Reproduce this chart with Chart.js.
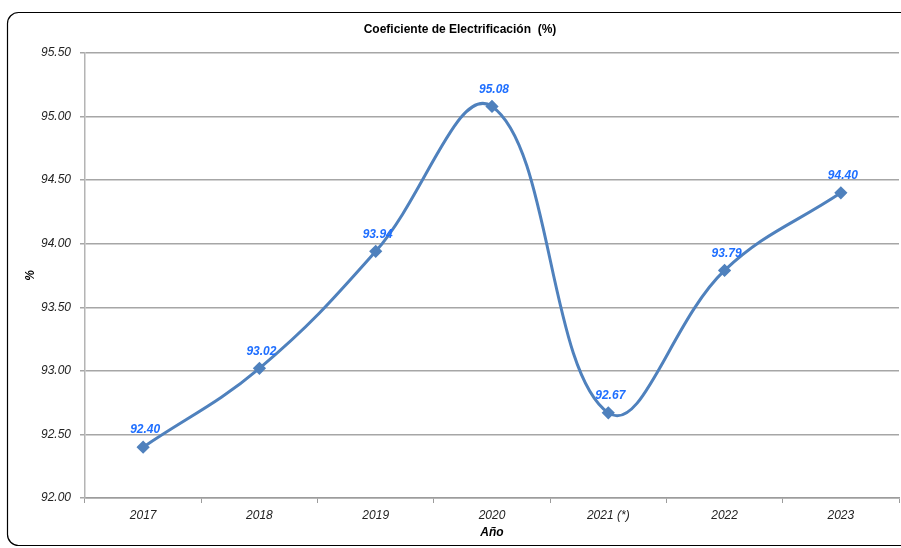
<!DOCTYPE html>
<html>
<head>
<meta charset="utf-8">
<script src="https://cdn.jsdelivr.net/npm/chart.js@4"></script>
<style>
  html, body { margin: 0; padding: 0; background: #ffffff; overflow: hidden; }
  #wrap { width: 901px; height: 548px; position: relative; }
  canvas { display: block; }
</style>
</head>
<body>
<div id="wrap"><canvas id="c" width="901" height="548"></canvas></div>
<script>
// ---- Data ----
const categories = ['2017', '2018', '2019', '2020', '2021 (*)', '2022', '2023'];
const coefValues = [92.40, 93.02, 93.94, 95.08, 92.67, 93.79, 94.40];
const yTicks = [92.00, 92.50, 93.00, 93.50, 94.00, 94.50, 95.00, 95.50];
const chartTitle = 'Coeficiente de Electrificación  (%)';
const xTitle = 'Año';
const yTitle = '%';

const FONT = "'Liberation Sans Narrow', 'Liberation Sans', Arial, sans-serif";
const LINE_COLOR = '#4F81BD';
const LABEL_COLOR = '#1F6FFF';

const framePlugin = {
  id: 'frame',
  beforeDraw(chart) {
    const ctx = chart.ctx;
    ctx.save();
    ctx.fillStyle = '#ffffff';
    ctx.fillRect(0, 0, chart.width, chart.height);
    ctx.restore();
  },
  afterDraw(chart) {
    const ctx = chart.ctx;
    ctx.save();
    ctx.strokeStyle = '#000000';
    ctx.lineWidth = 1.2;
    const x0 = 7.5, y0 = 12.5, y1 = 545.5, r = 11;
    ctx.beginPath();
    ctx.moveTo(chart.width + 5, y0);
    ctx.lineTo(x0 + r, y0);
    ctx.arcTo(x0, y0, x0, y0 + r, r);
    ctx.lineTo(x0, y1 - r);
    ctx.arcTo(x0, y1, x0 + r, y1, r);
    ctx.lineTo(chart.width + 5, y1);
    ctx.stroke();
    ctx.fillStyle = '#000000';
    ctx.font = 'bold 12px ' + FONT;
    ctx.textAlign = 'center';
    ctx.textBaseline = 'middle';
    ctx.fillText(chartTitle, 460, 30);
    ctx.restore();
  }
};

const labelPlugin = {
  id: 'valueLabels',
  afterDatasetsDraw(chart) {
    const ctx = chart.ctx;
    const meta = chart.getDatasetMeta(0);
    const data = chart.data.datasets[0].data;
    ctx.save();
    ctx.fillStyle = LABEL_COLOR;
    ctx.font = 'italic bold 12px ' + FONT;
    ctx.textAlign = 'center';
    ctx.textBaseline = 'middle';
    meta.data.forEach((pt, i) => {
      ctx.fillText(data[i].toFixed(2), pt.x + 2, pt.y - 17);
    });
    ctx.restore();
  }
};

new Chart(document.getElementById('c'), {
  type: 'line',
  data: {
    labels: categories,
    datasets: [{
      data: coefValues,
      borderColor: LINE_COLOR,
      backgroundColor: LINE_COLOR,
      borderWidth: 3,
      tension: 0.4,
      pointStyle: 'rectRot',
      pointRadius: 4.5,
      pointHoverRadius: 4.5,
      pointBackgroundColor: LINE_COLOR,
      pointBorderColor: LINE_COLOR,
      fill: false
    }]
  },
  options: {
    responsive: false,
    animation: false,
    devicePixelRatio: 1,
    layout: { autoPadding: false, padding: { top: 53, left: 0, right: 2, bottom: 0 } },
    plugins: {
      legend: { display: false },
      title: { display: false },
      tooltip: { enabled: false }
    },
    scales: {
      x: {
        type: 'category',
        offset: true,
        grid: {
          offset: true,
          drawOnChartArea: false,
          drawTicks: true,
          tickLength: 5,
          color: '#9c9c9c',
          lineWidth: 1
        },
        border: { color: '#9c9c9c', width: 1.5 },
        ticks: {
          color: '#222222',
          font: { family: FONT, size: 12, style: 'italic' },
          padding: 5,
          maxRotation: 0,
          autoSkip: false
        },
        title: {
          display: true,
          text: xTitle,
          color: '#000000',
          font: { family: FONT, size: 12, style: 'italic', weight: 'bold' },
          padding: { top: 0, bottom: 8 }
        },
        afterFit(scale) {
          scale.height = 50;
          scale.paddingLeft = 0;
          scale.paddingRight = 0;
        }
      },
      y: {
        min: 92,
        max: 95.5,
        afterBuildTicks(scale) { scale.ticks = yTicks.map(v => ({ value: v })); },
        grid: {
          color: '#a6a6a6',
          lineWidth: 1.5,
          drawTicks: true,
          tickLength: 5
        },
        border: { color: '#b4b4b4', width: 1.5 },
        ticks: {
          color: '#222222',
          font: { family: FONT, size: 12, style: 'italic' },
          padding: 9,
          callback: v => Number(v).toFixed(2)
        },
        title: {
          display: true,
          text: yTitle,
          color: '#000000',
          font: { family: FONT, size: 12, style: 'italic', weight: 'bold' },
          padding: { top: 23, bottom: 0 }
        },
        afterFit(scale) { scale.width = 85; }
      }
    }
  },
  plugins: [framePlugin, labelPlugin]
});
</script>
</body>
</html>
